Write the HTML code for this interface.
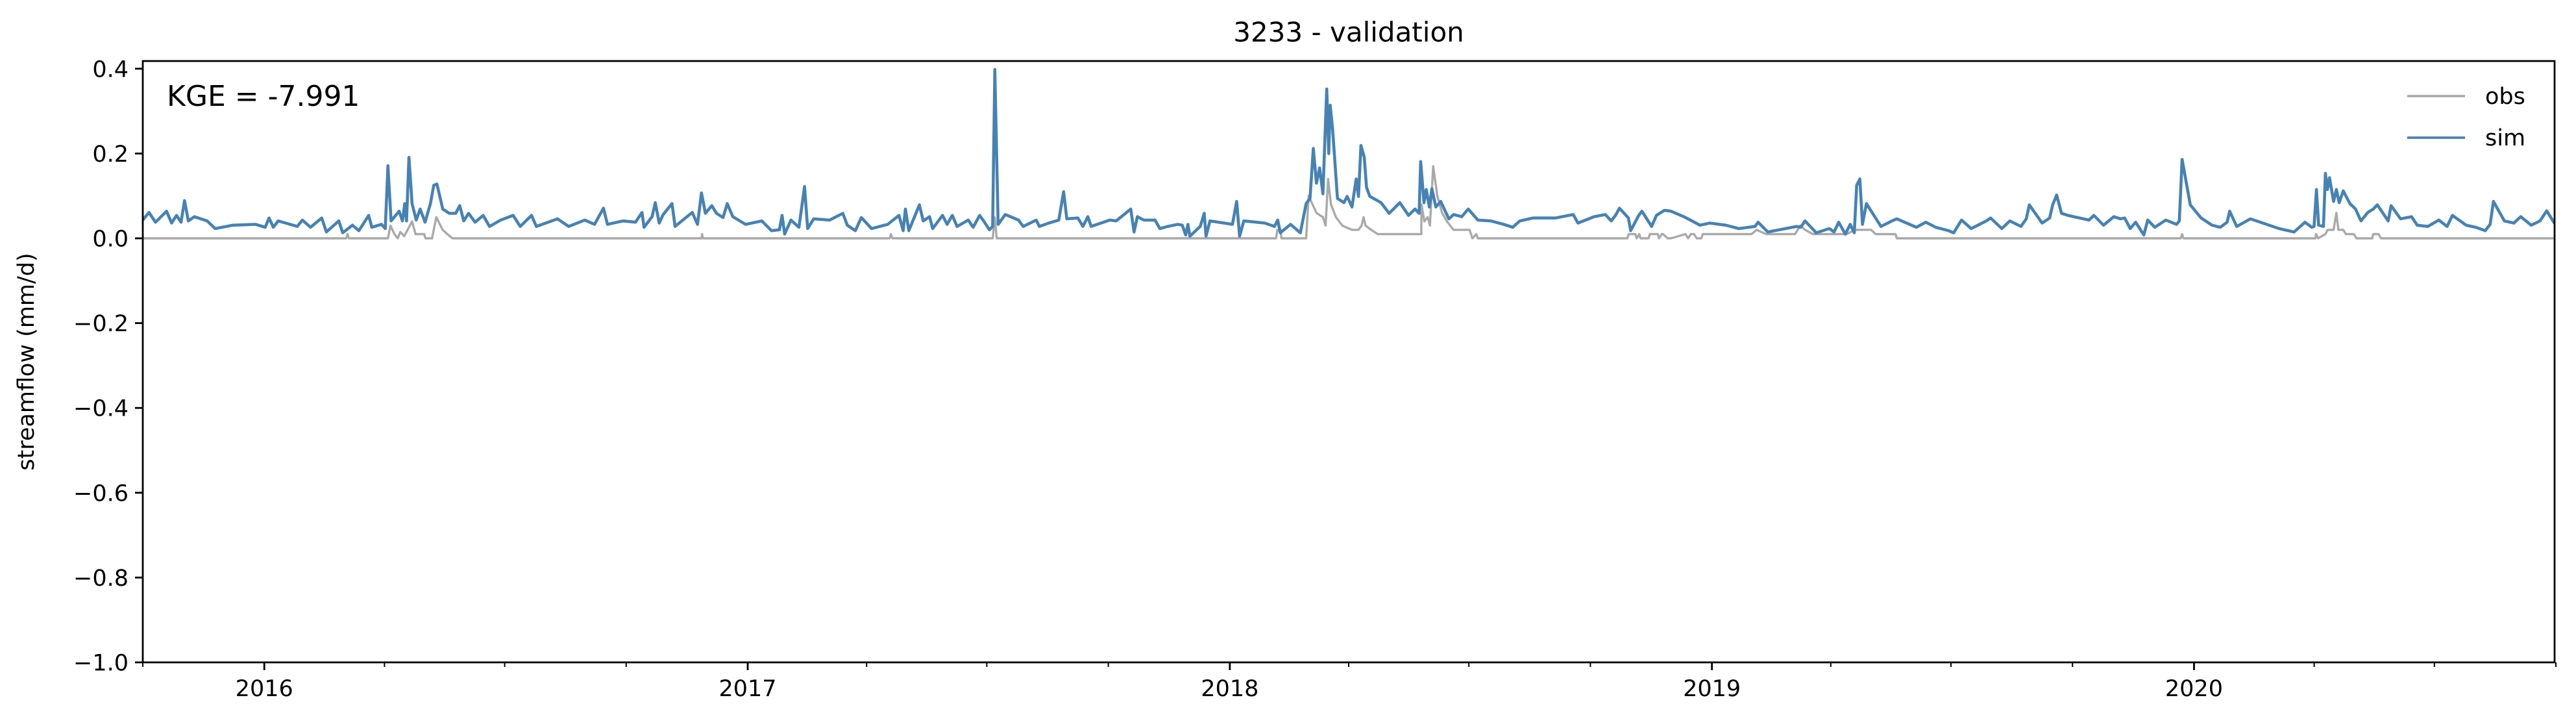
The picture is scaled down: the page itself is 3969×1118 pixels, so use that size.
<!DOCTYPE html>
<html><head><meta charset="utf-8"><style>
html,body{margin:0;padding:0;background:#fff;}
svg{display:block;font-family:"DejaVu Sans","Liberation Sans",sans-serif;}
</style></head><body>
<svg id="chart" width="3969" height="1118" viewBox="0 0 3969 1118" xmlns="http://www.w3.org/2000/svg">
<rect width="3969" height="1118" fill="#fff"/>
<text x="2078" y="64" font-size="42" text-anchor="middle">3233 - validation</text>
<text transform="translate(52,557) rotate(-90)" font-size="35" text-anchor="middle">streamflow (mm/d)</text>
<defs><clipPath id="plotclip"><rect x="220" y="94" width="3716" height="926"/></clipPath></defs>
<g id="yticks"></g>
<g id="xticks"></g>
<g id="series" clip-path="url(#plotclip)"></g>
<rect x="220" y="94" width="3716" height="926" fill="none" stroke="#000" stroke-width="2.8"/>
<text x="257" y="163" font-size="44">KGE = -7.991</text>
<g>
<line x1="3709" y1="148" x2="3798" y2="148" stroke="#a9a9a9" stroke-width="3.5"/>
<text x="3829" y="160" font-size="35">obs</text>
<line x1="3709" y1="212" x2="3798" y2="212" stroke="#4682b4" stroke-width="3.8"/>
<text x="3829" y="224" font-size="35">sim</text>
</g>
</svg>
<script>
// day offsets from 2015-10-01
const simDays=[0,4.7,9.6,18,21.8,25.5,29,31.6,34.5,39,48.7,54.8,68.3,85.4,92.7,95.6,98.8,102.5,117,120.8,127,135.5,139,148.4,151.4,158.7,163.6,171,173.4,180.7,183.6,185.6,188,194.1,196.6,198.3,199.7,201.5,203.9,207,210,213.7,217.8,220.3,222.7,227.1,232,236.9,240,243,246.7,251.6,257.7,262.5,271,280.4,285.8,294.3,298,314,322.4,334.7,342,348.8,351.8,
363.6,373,378,379.5,385.6,388,391,394,400.7,403,410,416,420,423,426,430.8,434.4,439.3,442.5,446.7,456.4,468.7,476,482,484,486,490.7,496.8,501,503.4,508,520,530,533.4,539.5,544,551.8,564,572.5,575.7,577.4,580,588,590.9,595.7,598,605.5,609,612.9,616.5,625,628.7,633.6,637.3,641,643.4,645.1,647.6,653,663,666.6,676.4,678.8,686,693.5,697.2,699.6,708,711.8,715.5,718,732,
737,748,750.5,753,757.8,766.4,770,776,783.5,787,789.6,791.3,792.8,800.6,803.6,805,808,825,828.2,830.4,833.6,849.5,856.8,859.3,861.2,869,876.4,880.8,883.7,886.2,888.6,891,893.5,896.4,897.9,899,900.8,904.5,909.4,911.8,915.5,918.7,920.4,922.3,924.8,926.5,929,937.5,943.6,951.7,958.3,963.2,966.3,967.5,970,971.7,974.1,976,979,982.7,988.8,992.5,998.6,1003.5,1010.8,1020.6,1030.4,1037.2,1042.6,1052.4,1069.4,1083,1086.6,1098.8,1107.3,
1111.8,1115,1118,1124.8,1126.5,1132.6,1135,1142.4,1146,1152,1157,1166.8,1171.7,1179,1186.4,1198.6,1208.3,1220.6,1223,1230.3,1252,1255.3,1258.5,1267,1276.8,1280.5,1284,1289,1292.7,1295.8,1297.6,1300,1302,1305,1316,1324.4,1328,1342.8,1350,1357.4,1367.2,1371,1377,1384.3,1395.8,1399,1407.5,1413.6,1422,1426,1428.3,1438,1443.7,1446,1449,1452.7,1457.6,1473.5,1477.2,1484.5,
1492.3,1497.4,1500.5,1504.7,1508.8,1515,1518,1523.3,1531.6,1539.8,1541.9,1544,1550.2,1558.4,1566.7,1572.9,1578.1,1580,1585.3,1595.7,1608,1617.4,1628.8,1637,1642.2,1643.9,1645.7,1647.4,1651,1652.5,1654,1655.6,1658.7,1660.8,1662.9,1666,1671,1675.3,1679.4,1684.6,1688.7,1691.8,1700,1702.2,1709.4,1717.7,1722,1730,1738.4,1744.6,1748.7,1759,1766.3,1773.5,1777.2,1779.7,1788,1795.2,1800.4,1808.3,1815,1820,1826];
const simVals=[0.043,0.061,0.038,0.064,0.036,0.054,0.038,0.089,0.041,0.051,0.041,0.023,0.031,0.033,0.026,0.048,0.026,0.041,0.028,0.043,0.026,0.048,0.015,0.041,0.013,0.031,0.018,0.054,0.026,0.033,0.023,0.171,0.041,0.064,0.041,0.082,0.041,0.191,0.082,0.043,0.069,0.038,0.082,0.125,0.128,0.069,0.059,0.059,0.077,0.041,0.059,0.038,0.054,0.028,0.043,0.054,0.028,0.054,0.028,0.046,0.028,0.043,0.033,0.071,0.033,
0.041,0.038,0.061,0.026,0.051,0.084,0.036,0.056,0.082,0.028,0.046,0.061,0.033,0.107,0.059,0.077,0.059,0.049,0.082,0.051,0.033,0.041,0.018,0.020,0.054,0.010,0.043,0.026,0.122,0.023,0.046,0.043,0.059,0.031,0.018,0.049,0.023,0.033,0.054,0.018,0.069,0.018,0.079,0.041,0.051,0.023,0.054,0.033,0.054,0.028,0.043,0.026,0.054,0.038,0.020,0.028,0.398,0.033,0.056,0.043,0.028,0.043,0.028,0.036,0.043,0.110,0.046,0.048,0.028,0.051,0.028,0.043,
0.041,0.069,0.015,0.051,0.043,0.043,0.023,0.028,0.033,0.031,0.008,0.033,0.005,0.028,0.059,0.005,0.041,0.033,0.087,0.005,0.041,0.036,0.028,0.043,0.013,0.033,0.013,0.082,0.094,0.212,0.130,0.166,0.105,0.352,0.200,0.314,0.258,0.094,0.084,0.099,0.074,0.140,0.099,0.219,0.191,0.120,0.099,0.084,0.059,0.084,0.054,0.069,0.059,0.181,0.084,0.115,0.074,0.117,0.074,0.087,0.046,0.056,0.051,0.069,0.043,0.041,0.033,0.026,0.041,0.048,0.048,0.056,0.036,0.051,0.056,0.041,
0.054,0.071,0.048,0.018,0.054,0.064,0.028,0.054,0.066,0.064,0.051,0.043,0.031,0.036,0.031,0.023,0.028,0.038,0.015,0.028,0.026,0.041,0.013,0.023,0.015,0.038,0.010,0.033,0.013,0.125,0.140,0.033,0.082,0.028,0.041,0.046,0.026,0.038,0.026,0.018,0.013,0.043,0.023,0.041,0.048,0.023,0.041,0.028,0.046,0.079,0.036,0.048,0.079,0.102,0.059,0.054,0.043,0.054,0.031,0.051,
0.046,0.048,0.023,0.038,0.008,0.043,0.026,0.043,0.033,0.041,0.186,0.079,0.048,0.031,0.026,0.038,0.064,0.028,0.046,0.033,0.023,0.015,0.038,0.026,0.028,0.115,0.031,0.028,0.153,0.115,0.143,0.087,0.115,0.084,0.112,0.082,0.069,0.041,0.061,0.069,0.079,0.041,0.077,0.046,0.051,0.031,0.028,0.043,0.028,0.054,0.031,0.026,0.018,0.033,0.087,0.041,0.036,0.051,0.031,0.041,0.065,0.035,0.040];
const obsDays=[0,154,155,156,185.6,187.5,190.5,193,195,198,203.9,206.5,213,214,219,222.2,227,230.5,234.5,
423,423.5,424,565.5,566.4,567.5,643.5,645,646.5,
858,859,861.5,862,880.8,882.7,888.6,893.5,895.5,897.4,899.6,903.3,908.2,915.5,920.4,922.8,924.3,925.8,930,935,948,968,968.1,970.3,972.8,974.5,977,980.1,983.7,987.4,992.3,1004.5,1006.7,1009.6,1010.8,
1124,1125,1130,1131,1133,1134,1140,1141,1147,1148,1150,1151,1154.5,1155,1157,1168,1170,1172,1174.5,1176.5,1180,1181,1187,1218,1221.8,1229,1251,1254.8,1258.5,1264.5,1276,1290,1296.3,1301,1308.5,1312,1327,1328,
1543,1544,1545,1645,1645.3,1647,1652.5,1654.2,1658.7,1660.8,1662.3,1666,1668,1674,1676,1688,1688.7,1692.8,1694.5,1826];
const obsVals=[0,0,0.01,0,0,0.03,0.01,0,0.015,0.005,0.04,0.01,0.01,0,0,0.05,0.02,0.01,0,
0,0.01,0,0,0.01,0,0,0.05,0,
0,0.02,0.02,0,0,0.1,0.06,0.05,0.03,0.14,0.08,0.05,0.03,0.02,0.02,0.03,0.05,0.03,0.02,0.01,0.01,0.01,0.08,0.04,0.05,0.03,0.17,0.1,0.06,0.04,0.02,0.02,0,0.01,0,
0,0.01,0.01,0,0.01,0,0,0.01,0.01,0,0.01,0.01,0,0,0,0.01,0,0.01,0.01,0,0,0.01,0.01,0.01,0.02,0.01,0.01,0.03,0.02,0.01,0.01,0.01,0.02,0.02,0.02,0.01,0.01,0,
0,0.01,0,0,0.01,0,0.01,0.02,0.02,0.06,0.02,0.02,0.01,0.01,0,0,0.01,0.01,0,0];
const yTickVals=[0.4,0.2,0.0,-0.2,-0.4,-0.6,-0.8,-1.0];
const yTickLabels=["0.4","0.2","0.0","\u22120.2","\u22120.4","\u22120.6","\u22120.8","\u22121.0"];
const xYears=[2016,2017,2018,2019,2020];

const X0=220,X1=3936,Y0=94,Y1=1020;
const start=Date.UTC(2015,9,1), end=Date.UTC(2020,8,30);
const totalDays=(end-start)/864e5;
const xs=d=>X0+d*(X1-X0)/totalDays;
const ys=v=>367+(0-v)*653;
const NS="http://www.w3.org/2000/svg";
function mk(tag,attrs,parent,txt){const e=document.createElementNS(NS,tag);for(const k in attrs)e.setAttribute(k,attrs[k]);if(txt!==undefined)e.textContent=txt;parent.appendChild(e);return e;}
const yg=document.getElementById('yticks');
yTickVals.forEach((v,i)=>{
  const t=mk('line',{x1:X0-12,x2:X0,y1:ys(v),y2:ys(v),stroke:'#000','stroke-width':2.8},yg);
  
  
  const l=mk('text',{x:X0-22,y:ys(v)+12.5,'font-size':35,'text-anchor':'end'},yg,yTickLabels[i]);
  
  
});
const xg=document.getElementById('xticks');
for(let y=2015;y<=2020;y++){for(let m=0;m<12;m+=3){
  const d=(Date.UTC(y,m,1)-start)/864e5; if(d<0||d>totalDays+1)continue;
  const major=m===0;
  const t=mk('line',{x1:xs(d),x2:xs(d),y1:Y1,y2:Y1+(major?12:7),stroke:'#000','stroke-width':major?2.8:2},xg);
  
  
}}
xYears.forEach(y=>{
  const d=(Date.UTC(y,0,1)-start)/864e5;
  const l=mk('text',{x:xs(d),y:1072,'font-size':35,'text-anchor':'middle'},xg,String(y));
  
  
});
const sg=document.getElementById('series');
function line(days,vals){return days.map((d,i)=>xs(d).toFixed(1)+','+ys(vals[i]).toFixed(1)).join(' ');}
const po=mk('polyline',{points:line(obsDays,obsVals),fill:'none',stroke:'#a9a9a9','stroke-width':3.4,'stroke-linejoin':'round'},sg);


const ps=mk('polyline',{points:line(simDays,simVals),fill:'none',stroke:'#4682b4','stroke-width':4.6,'stroke-linejoin':'round'},sg);


</script>
</body></html>
